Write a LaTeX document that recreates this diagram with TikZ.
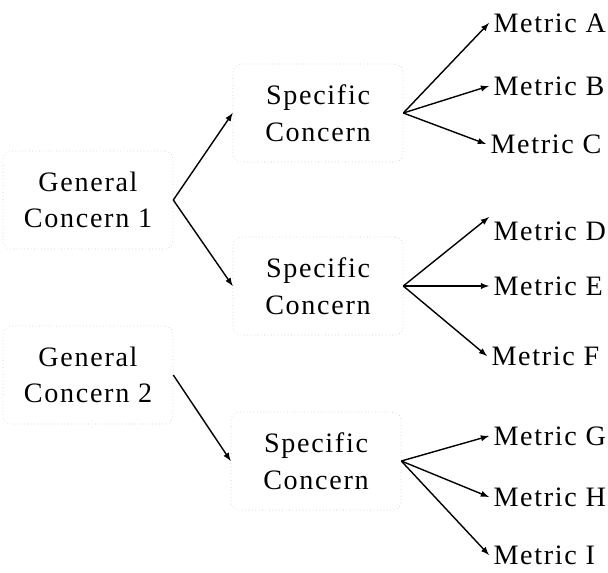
\documentclass[tikz,border=0pt]{standalone}
\usepackage{fontspec}
\setmainfont{Liberation Serif}[LetterSpace=6]
\usepackage{tikz}
\usetikzlibrary{arrows,backgrounds,positioning}

\tikzset{
  concern/.style={draw=black!25,dotted,rounded corners=6pt,align=center,
    minimum width=4.25cm,minimum height=2.45cm,
    font=\fontsize{20}{26}\selectfont},
  metric/.style={anchor=west,inner sep=3pt,font=\fontsize{20}{24}\selectfont},
  link/.style={-latex,line width=1pt,black}
}

\begin{document}
\begin{tikzpicture}[x=0.025cm,y=-0.025cm]
\useasboundingbox (0,0) rectangle (608,573);
% general concerns
\node[concern] (gc1) at (88,200) {General\\Concern 1};
\node[concern] (gc2) at (88,375) {General\\Concern 2};
% specific concerns
\node[concern] (sc1) at (318,113) {Specific\\Concern};
\node[concern] (sc2) at (318,286) {Specific\\Concern};
\node[concern] (sc3) at (316,461) {Specific\\Concern};
% metrics
\node[metric] (mA) at (489,23) {Metric A};
\node[metric] (mB) at (489,86) {Metric B};
\node[metric] (mC) at (486,144) {Metric C};
\node[metric] (mD) at (489,231) {Metric D};
\node[metric] (mE) at (489,286) {Metric E};
\node[metric] (mF) at (487,356) {Metric F};
\node[metric] (mG) at (489,436) {Metric G};
\node[metric] (mH) at (489,497) {Metric H};
\node[metric] (mI) at (489,555) {Metric I};

\draw[link] (gc1.east) -- (sc1.west);
\draw[link] (gc1.east) -- (sc2.west);
\draw[link] (gc2.east) -- (sc3.west);

\draw[link] (sc1.east) -- (mA.west);
\draw[link] (sc1.east) -- (mB.west);
\draw[link] (sc1.east) -- (mC.west);
\draw[link] (sc2.east) -- (mD.north west);
\draw[link] (sc2.east) -- (mE.west);
\draw[link] (sc2.east) -- (mF.west);
\draw[link] (sc3.east) -- (mG.west);
\draw[link] (sc3.east) -- (mH.west);
\draw[link] (sc3.east) -- (mI.west);
\end{tikzpicture}
\end{document}
